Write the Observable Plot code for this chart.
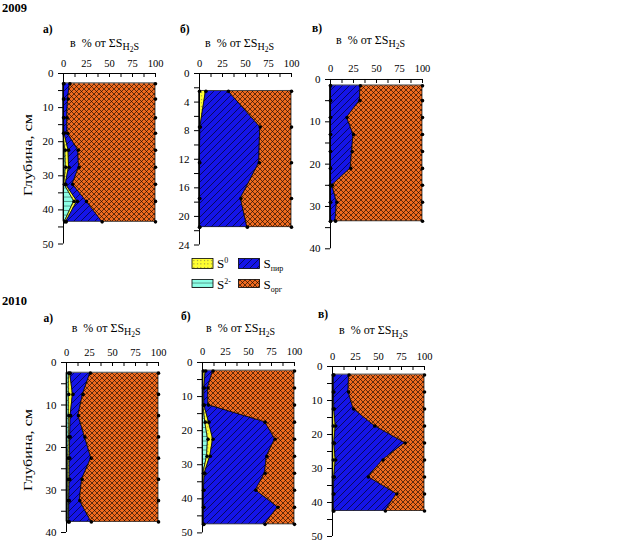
<!DOCTYPE html>
<html><head><meta charset="utf-8">
<script src="https://cdn.jsdelivr.net/npm/d3@7"></script>
<script src="https://cdn.jsdelivr.net/npm/@observablehq/plot@0.6"></script>
<style>
body{margin:0;background:#fff;}
#root{position:relative;width:644px;height:544px;overflow:hidden;font-family:"Liberation Serif","Times New Roman",serif;}
.p{position:absolute;}
#overlay{position:absolute;left:0;top:0;}
</style></head><body>
<div id="root"></div>
<script>
// ---- data (percent of total S_H2S), depth in cm ----
const years = ["2009", "2010"];
const panelLabels = ["а)", "б)", "в)"];
const seriesNames = ["S2-", "S0", "Sпир", "Sорг"];
const xTicks = [0, 25, 50, 75, 100];

const depth2009a = [3, 7.5, 13, 17.5, 22.5, 27.5, 32.5, 37.5, 43.5];
const s2_2009a   = [0, 0, 0, 0, 2, 2.5, 1, 11.5, 1.5];
const s0_2009a   = [0.5, 0.5, 0.5, 1, 3.5, 3.5, 1.5, 3.5, 1.5];
const spir_2009a = [6.5, 4.5, 3.5, 3.5, 10.5, 11, 7.5, 10, 39];

const depth2009b = [2.5, 7.5, 12.5, 17.5, 21.5];
const s2_2009b   = [0, 0, 0, 0, 0];
const s0_2009b   = [7, 1, 0.3, 0.3, 0.3];
const spir_2009b = [24.5, 65, 64.7, 44.7, 51.7];

const depth2009c = [1.5, 5, 9, 13, 17, 21, 25, 29, 33.5];
const s2_2009c   = [0, 0, 0, 0, 0, 0, 0, 0, 0];
const s0_2009c   = [0, 0, 0, 0, 0, 0, 0, 0, 0];
const spir_2009c = [32.5, 32, 18, 25, 23.5, 22, 2, 7, 5.5];

const depth2010a = [2.5, 7.5, 12.5, 17.5, 22.5, 27.5, 32.5, 37.5];
const s2_2010a   = [2.5, 2.5, 2.5, 2.5, 2, 2, 2, 2];
const s0_2010a   = [1.5, 4.5, 2, 1.5, 1.5, 1.5, 1, 1];
const spir_2010a = [22, 11, 8.5, 16, 23.5, 13.5, 11.5, 24];

const depth2010b = [2.5, 7.5, 12.5, 17.5, 22.5, 27.5, 32.5, 37.5, 42.5, 47.5];
const s2_2010b   = [1, 1, 1, 3, 6, 5, 1, 1, 1, 1];
const s0_2010b   = [2.5, 1, 1, 4, 5.5, 3.5, 1.5, 0.5, 0.5, 0.5];
const spir_2010b = [8, 4, 4.5, 61, 67.5, 61.5, 65.5, 56.5, 80.5, 66.5];

const depth2010c = [2.5, 7.5, 12.5, 17.5, 22.5, 27.5, 32.5, 37.5, 42.5];
const s2_2010c   = [0.8, 0.8, 0.8, 0.8, 0.8, 0.8, 0.8, 0.8, 0.8];
const s0_2010c   = [0.7, 0.7, 1.2, 2.7, 1.2, 2.7, 1.2, 0.7, 0.7];
const spir_2010c = [16.5, 16, 21, 42.5, 77, 51.5, 37, 68.5, 56];

// ---- overlay: patterns, titles, legend ----
const FONT = '"Liberation Serif","Times New Roman",serif';
const root = d3.select("#root");
const ov = root.append("svg").attr("id", "overlay").attr("width", 644).attr("height", 544)
  .style("font-family", FONT);
const defs = ov.append("defs");
function pat(id, w, h, fill, draw) {
  const p = defs.append("pattern").attr("id", id).attr("patternUnits", "userSpaceOnUse").attr("width", w).attr("height", h);
  p.append("rect").attr("width", w).attr("height", h).attr("fill", fill);
  draw(p);
}
pat("pOrg", 5, 5, "#F06A1E", p => p.append("path").attr("d", "M0,0L5,5M5,0L0,5").attr("stroke", "#000").attr("stroke-width", 0.6));
pat("pPir", 7, 7, "#1515E8", p => p.append("path").attr("d", "M0,7L7,0M-1,1L1,-1M6,8L8,6").attr("stroke", "#000").attr("stroke-width", 0.6));
pat("pS0", 3.5, 3.5, "#FFFF30", p => p.append("rect").attr("x", 1).attr("y", 1).attr("width", 0.9).attr("height", 0.9).attr("fill", "#555"));
pat("pS2", 4.5, 4.5, "#8CFFE6", p => p.append("path").attr("d", "M0,4H4.5").attr("stroke", "#000").attr("stroke-width", 0.4));
const fills = ["url(#pS2)", "url(#pS0)", "url(#pPir)", "url(#pOrg)"];

// ---- panels ----
const panels = [
  {depth: depth2009a, s2: s2_2009a, s0: s0_2009a, spir: spir_2009a, yMax: 50, major: 10, minor: 5, x0: 63, y0: 73, h: 170.5},
  {depth: depth2009b, s2: s2_2009b, s0: s0_2009b, spir: spir_2009b, yMax: 24, major: 4, minor: 2, x0: 199, y0: 73, h: 171.5},
  {depth: depth2009c, s2: s2_2009c, s0: s0_2009c, spir: spir_2009c, yMax: 40, major: 10, minor: 5, x0: 329.5, y0: 79, h: 169.3},
  {depth: depth2010a, s2: s2_2010a, s0: s0_2010a, spir: spir_2010a, yMax: 40, major: 10, minor: 5, x0: 65.7, y0: 361.7, h: 170},
  {depth: depth2010b, s2: s2_2010b, s0: s0_2010b, spir: spir_2010b, yMax: 50, major: 10, minor: 5, x0: 201.7, y0: 362.3, h: 170.4},
  {depth: depth2010c, s2: s2_2010c, s0: s0_2010c, spir: spir_2010c, yMax: 50, major: 10, minor: 5, x0: 331.7, y0: 365.7, h: 170}
];

const W = 92, mL = 34, mT = 24, mR = 6, mB = 6;
panels.forEach(p => {
  const rows = p.depth.map((d, i) => {
    const a = p.s2[i], b = a + p.s0[i], c = b + p.spir[i];
    return {depth: d, c0: 0, c1: a, c2: b, c3: c, c4: 100};
  });
  const ticksY = d3.range(0, p.yMax + 1e-9, p.minor);
  const keys = ["c0", "c1", "c2", "c3", "c4"];
  const marks = [];
  for (let k = 0; k < 4; k++) {
    marks.push(Plot.areaX(rows, {y: "depth", x1: keys[k], x2: keys[k + 1], fill: fills[k], stroke: "#000", strokeWidth: 0.7}));
  }
  marks.push(
    Plot.ruleY([0], {stroke: "#000", strokeWidth: 1}),
    Plot.ruleX([0], {stroke: "#000", strokeWidth: 1}),
    Plot.tickX(d3.range(0, 100.1, 12.5), {x: d => d, insetBottom: p.h - 4, stroke: "#000", strokeWidth: 1}),
    Plot.axisX({anchor: "top", ticks: xTicks, tickSize: 0, tickPadding: 7, label: null, fontSize: 10.5}),
    Plot.axisY({anchor: "left", ticks: ticksY, tickSize: 5, tickPadding: 5, label: null, fontSize: 11,
      tickFormat: d => (d % p.major === 0 ? String(d) : "")})
  );
  for (let k = 1; k < 5; k++) {
    marks.push(Plot.dot(rows, {x: keys[k], y: "depth", r: 1.8, fill: "#000", stroke: null}));
  }
  const chart = Plot.plot({
    width: mL + W + mR, height: mT + p.h + mB,
    marginLeft: mL, marginTop: mT, marginRight: mR, marginBottom: mB,
    style: {fontFamily: FONT, fontSize: "11px", background: "transparent", color: "#000", overflow: "visible"},
    x: {domain: [0, 100]},
    y: {domain: [0, p.yMax], reverse: true},
    marks
  });
  const div = root.append("div").attr("class", "p").style("left", (p.x0 - mL) + "px").style("top", (p.y0 - mT) + "px");
  div.node().appendChild(chart);
});

// ---- texts ----
function txt(x, y, size, str, bold) {
  return ov.append("text").attr("x", x).attr("y", y).attr("font-size", size).attr("font-weight", bold ? "bold" : null).text(str);
}
txt(2, 12, 12.5, years[0], true);
txt(2, 305, 12.5, years[1], true);

const labelPos = [[43, 33], [180, 33], [312, 31.5], [43.5, 321.5], [181, 320], [318, 318]];
labelPos.forEach((lp, i) => txt(lp[0], lp[1], 11.5, panelLabels[i % 3], true));

const titlePos = [[70, 46.5], [205, 46.5], [336, 43.5], [71.7, 331.5], [206, 331.5], [339, 333.5]];
titlePos.forEach(tp => {
  const t = ov.append("text").attr("x", tp[0]).attr("y", tp[1]).attr("font-size", 12).attr("xml:space", "preserve");
  t.append("tspan").text("в\u00a0\u00a0% от ΣS");
  t.append("tspan").attr("font-size", 10).attr("dy", 3).text("H");
  t.append("tspan").attr("font-size", 7.5).attr("dy", 2).text("2");
  t.append("tspan").attr("font-size", 10).attr("dy", -2).text("S");
});

[[27.5, 155], [27.5, 450]].forEach(c => {
  ov.append("text").attr("transform", `translate(${c[0] + 4},${c[1]}) rotate(-90)`)
    .attr("text-anchor", "middle").attr("font-size", 12.5).attr("textLength", 82).attr("lengthAdjust", "spacingAndGlyphs")
    .text("Глубина, см");
});

// ---- legend ----
const leg = [
  {fill: fills[1], x: 192, y: 258.5, h: 10, base: "S", sup: "0", sub: null},
  {fill: fills[2], x: 238.5, y: 258.5, h: 10, base: "S", sup: null, sub: "пир"},
  {fill: fills[0], x: 192, y: 279.5, h: 8, base: "S", sup: "2-", sub: null},
  {fill: fills[3], x: 238.5, y: 279.5, h: 8, base: "S", sup: null, sub: "орг"}
];
leg.forEach(l => {
  ov.append("rect").attr("x", l.x).attr("y", l.y).attr("width", 21).attr("height", l.h)
    .attr("fill", l.fill).attr("stroke", "#000").attr("stroke-width", 0.8);
  const t = ov.append("text").attr("x", l.x + 25).attr("y", l.y + 9.5).attr("font-size", 13);
  t.append("tspan").text(l.base);
  if (l.sup) t.append("tspan").attr("font-size", 8).attr("dy", -5).text(l.sup);
  if (l.sub) t.append("tspan").attr("font-size", 8).attr("dy", 3).text(l.sub);
});
</script>
</body></html>
